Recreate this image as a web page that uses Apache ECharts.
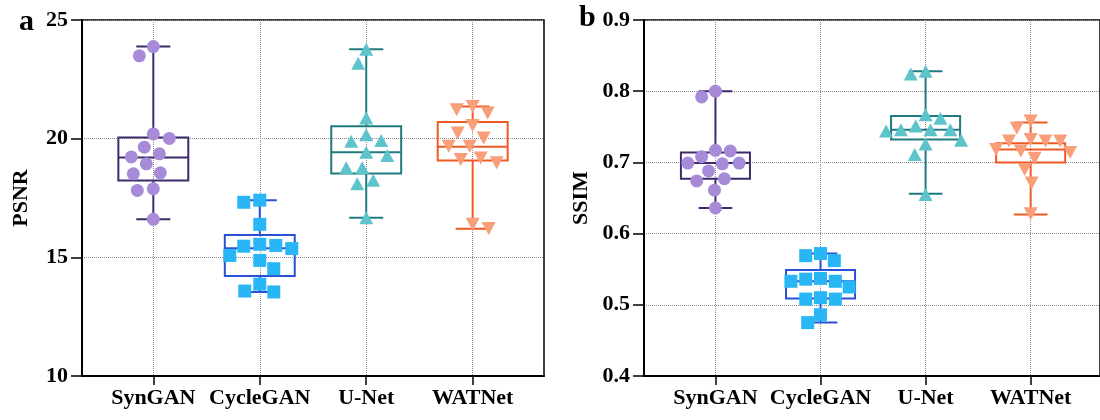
<!DOCTYPE html>
<html>
<head>
<meta charset="utf-8">
<script src="https://cdn.jsdelivr.net/npm/echarts@6/dist/echarts.min.js"></script>
<style>
html,body{margin:0;padding:0;background:#fff;}
#chart{width:1100px;height:420px;}
</style>
</head>
<body>
<div id="chart"></div>
<script>
// ---------- data ----------
const categories = ['SynGAN', 'CycleGAN', 'U-Net', 'WATNet'];

const psnrSynGAN   = [23.88, 23.49, 20.20, 20.01, 19.64, 19.36, 19.23, 18.94, 18.56, 18.52, 17.89, 17.82, 16.60];
const psnrCycleGAN = [17.41, 17.32, 16.39, 15.55, 15.50, 15.47, 15.37, 15.08, 14.87, 14.52, 13.87, 13.58, 13.54];
const psnrUNet     = [23.77, 23.18, 20.87, 20.17, 19.92, 19.89, 19.43, 19.29, 18.77, 18.77, 18.25, 18.10, 16.67];
const psnrWATNet   = [21.36, 21.22, 21.08, 20.55, 20.24, 20.03, 19.68, 19.68, 19.19, 19.12, 18.98, 16.39, 16.22];

// [min, Q1, median, Q3, max]
const psnrBoxSynGAN   = [16.60, 18.24, 19.21, 20.05, 23.88];
const psnrBoxCycleGAN = [13.54, 14.21, 15.38, 15.94, 17.41];
const psnrBoxUNet     = [16.67, 18.53, 19.43, 20.52, 23.77];
const psnrBoxWATNet   = [16.20, 19.08, 19.66, 20.70, 21.36];

const ssimSynGAN   = [0.800, 0.792, 0.717, 0.716, 0.708, 0.699, 0.699, 0.698, 0.688, 0.677, 0.674, 0.661, 0.636];
const ssimCycleGAN = [0.572, 0.569, 0.562, 0.537, 0.536, 0.533, 0.533, 0.525, 0.510, 0.508, 0.508, 0.486, 0.475];
const ssimUNet     = [0.828, 0.824, 0.767, 0.762, 0.751, 0.746, 0.746, 0.746, 0.744, 0.731, 0.726, 0.711, 0.655];
const ssimWATNet   = [0.758, 0.748, 0.732, 0.730, 0.730, 0.730, 0.718, 0.716, 0.714, 0.706, 0.690, 0.671, 0.628];

const ssimBoxSynGAN   = [0.636, 0.677, 0.699, 0.714, 0.800];
const ssimBoxCycleGAN = [0.475, 0.509, 0.533, 0.549, 0.572];
const ssimBoxUNet     = [0.656, 0.732, 0.746, 0.765, 0.828];
const ssimBoxWATNet   = [0.627, 0.700, 0.718, 0.727, 0.756];

const psnrTicks = [10, 15, 20, 25];
const ssimTicks = [0.4, 0.5, 0.6, 0.7, 0.8, 0.9];

// ---------- styles ----------
const FONT = '"Liberation Serif", "Times New Roman", serif';
const lineColors = ['#3d2b6b', '#2a50d4', '#1f7b80', '#ef5a24'];
const fillColors = ['#a78bd8', '#29b6f6', '#5ec4cb', '#f89e78'];
const symbols = ['circle', 'rect', 'triangle', 'triangle'];
const symbolRot = [0, 0, 0, 180];
const symbolSizes = [[13, 13], [13, 13], [14, 13], [14, 13]];

const GRID_TOP = 20, GRID_H = 356, GRID_W = 462;
const grids = [
  { left: 82, top: GRID_TOP, width: GRID_W, height: GRID_H, xMin: 0.33, xMax: 4.67 },
  { left: 644, top: GRID_TOP, width: GRID_W, height: GRID_H, xMin: 0.32, xMax: 4.66 }
];
const panels = [
  { name: 'PSNR', ticks: psnrTicks, values: [psnrSynGAN, psnrCycleGAN, psnrUNet, psnrWATNet],
    boxes: [psnrBoxSynGAN, psnrBoxCycleGAN, psnrBoxUNet, psnrBoxWATNet], digits: 0, nameGap: 50, swarmDist: 16 },
  { name: 'SSIM', ticks: ssimTicks, values: [ssimSynGAN, ssimCycleGAN, ssimUNet, ssimWATNet],
    boxes: [ssimBoxSynGAN, ssimBoxCycleGAN, ssimBoxUNet, ssimBoxWATNet], digits: 1, nameGap: 52, swarmDist: 15 }
];

// simple beeswarm layout (pixel space) -> offsets in x units
function swarm(vals, pxPerY, pxPerX, minDist) {
  const order = vals.map((v, i) => i).sort((a, b) => vals[b] - vals[a]);
  const placed = [];
  const off = new Array(vals.length).fill(0);
  let side = -1;
  order.forEach(i => {
    const y = vals[i] * pxPerY;
    for (let k = 0; k < 300; k++) {
      const cands = k === 0 ? [0] : [k * side, -k * side];
      let found = null;
      for (const dx of cands) {
        if (placed.every(p => Math.hypot(p.x - dx, p.y - y) >= minDist)) { found = dx; break; }
      }
      if (found !== null) {
        off[i] = found / pxPerX;
        placed.push({ x: found, y: y });
        if (found !== 0) side = -side;
        break;
      }
    }
  });
  return off;
}

const option = {
  animation: false,
  backgroundColor: '#fff',
  grid: grids.map(g => ({ left: g.left, top: g.top, width: g.width, height: g.height,
    show: true, borderColor: '#000', borderWidth: 1.5, backgroundColor: 'transparent', containLabel: false })),
  xAxis: grids.map((g, gi) => ({
    type: 'value', gridIndex: gi, min: g.xMin, max: g.xMax,
    axisLine: { show: true, onZero: false, lineStyle: { color: '#000', width: 2 } },
    axisTick: { show: true, length: 9, customValues: [1, 2, 3, 4], lineStyle: { color: '#000', width: 1.5 } },
    axisLabel: { show: true, customValues: [1, 2, 3, 4], margin: 11,
      formatter: v => categories[Math.round(v) - 1] || '',
      color: '#000', fontFamily: FONT, fontWeight: 'bold', fontSize: 22 },
    splitLine: { show: true, lineStyle: { color: '#8a8a8a', type: 'dotted', width: 1 } }
  })),
  yAxis: panels.map((p, gi) => ({
    type: 'value', gridIndex: gi, min: p.ticks[0], max: p.ticks[p.ticks.length - 1],
    interval: p.ticks[1] - p.ticks[0],
    name: p.name, nameLocation: 'middle', nameGap: p.nameGap,
    nameTextStyle: { color: '#000', fontFamily: FONT, fontWeight: 'bold', fontSize: 22 },
    axisLine: { show: true, lineStyle: { color: '#000', width: 2 } },
    axisTick: { show: true, length: 11, lineStyle: { color: '#000', width: 1.5 } },
    axisLabel: { color: '#000', fontFamily: FONT, fontWeight: 'bold', fontSize: 22, margin: 14,
      formatter: v => Number(v).toFixed(p.digits) },
    splitLine: { show: true, lineStyle: { color: '#8a8a8a', type: 'dotted', width: 1 } }
  })),
  graphic: [
    { type: 'text', left: 19, top: 7, style: { text: 'a', font: 'bold 30px ' + FONT, fill: '#000' } },
    { type: 'text', left: 579, top: 3, style: { text: 'b', font: 'bold 30px ' + FONT, fill: '#000' } }
  ],
  series: []
};

panels.forEach((p, gi) => {
  const g = grids[gi];
  const yMin = p.ticks[0], yMax = p.ticks[p.ticks.length - 1];
  const pxPerY = GRID_H / (yMax - yMin);
  const pxPerX = GRID_W / (g.xMax - g.xMin);
  // boxes
  categories.forEach((c, ci) => {
    option.series.push({
      type: 'custom', xAxisIndex: gi, yAxisIndex: gi, z: 2, silent: true,
      encode: { x: 0, y: [1, 2, 3, 4, 5] },
      data: [[ci + 1].concat(p.boxes[ci])],
      renderItem: function (params, api) {
        const x = api.value(0);
        const pmin = api.coord([x, api.value(1)]);
        const pq1 = api.coord([x, api.value(2)]);
        const pmed = api.coord([x, api.value(3)]);
        const pq3 = api.coord([x, api.value(4)]);
        const pmax = api.coord([x, api.value(5)]);
        const hw = api.size([0.657, 0])[0] / 2;
        const cw = api.size([0.32, 0])[0] / 2;
        const cx = pmed[0];
        const st = { stroke: lineColors[ci], lineWidth: 2, fill: null };
        return {
          type: 'group',
          children: [
            { type: 'rect', shape: { x: cx - hw, y: pq3[1], width: 2 * hw, height: pq1[1] - pq3[1] }, style: st },
            { type: 'line', shape: { x1: cx - hw, y1: pmed[1], x2: cx + hw, y2: pmed[1] }, style: st },
            { type: 'line', shape: { x1: cx, y1: pq3[1], x2: cx, y2: pmax[1] }, style: st },
            { type: 'line', shape: { x1: cx, y1: pq1[1], x2: cx, y2: pmin[1] }, style: st },
            { type: 'line', shape: { x1: cx - cw, y1: pmax[1], x2: cx + cw, y2: pmax[1] }, style: st },
            { type: 'line', shape: { x1: cx - cw, y1: pmin[1], x2: cx + cw, y2: pmin[1] }, style: st }
          ]
        };
      }
    });
  });
  // points
  categories.forEach((c, ci) => {
    const vals = p.values[ci];
    const offs = swarm(vals, pxPerY, pxPerX, p.swarmDist);
    option.series.push({
      type: 'scatter', name: c, xAxisIndex: gi, yAxisIndex: gi, z: 3, silent: true,
      symbol: symbols[ci], symbolRotate: symbolRot[ci], symbolSize: symbolSizes[ci],
      itemStyle: { color: fillColors[ci], opacity: 1 },
      data: vals.map((v, i) => [ci + 1 + offs[i], v])
    });
  });
});

const chart = echarts.init(document.getElementById('chart'), null, { renderer: 'canvas' });
chart.setOption(option);
</script>
</body>
</html>
